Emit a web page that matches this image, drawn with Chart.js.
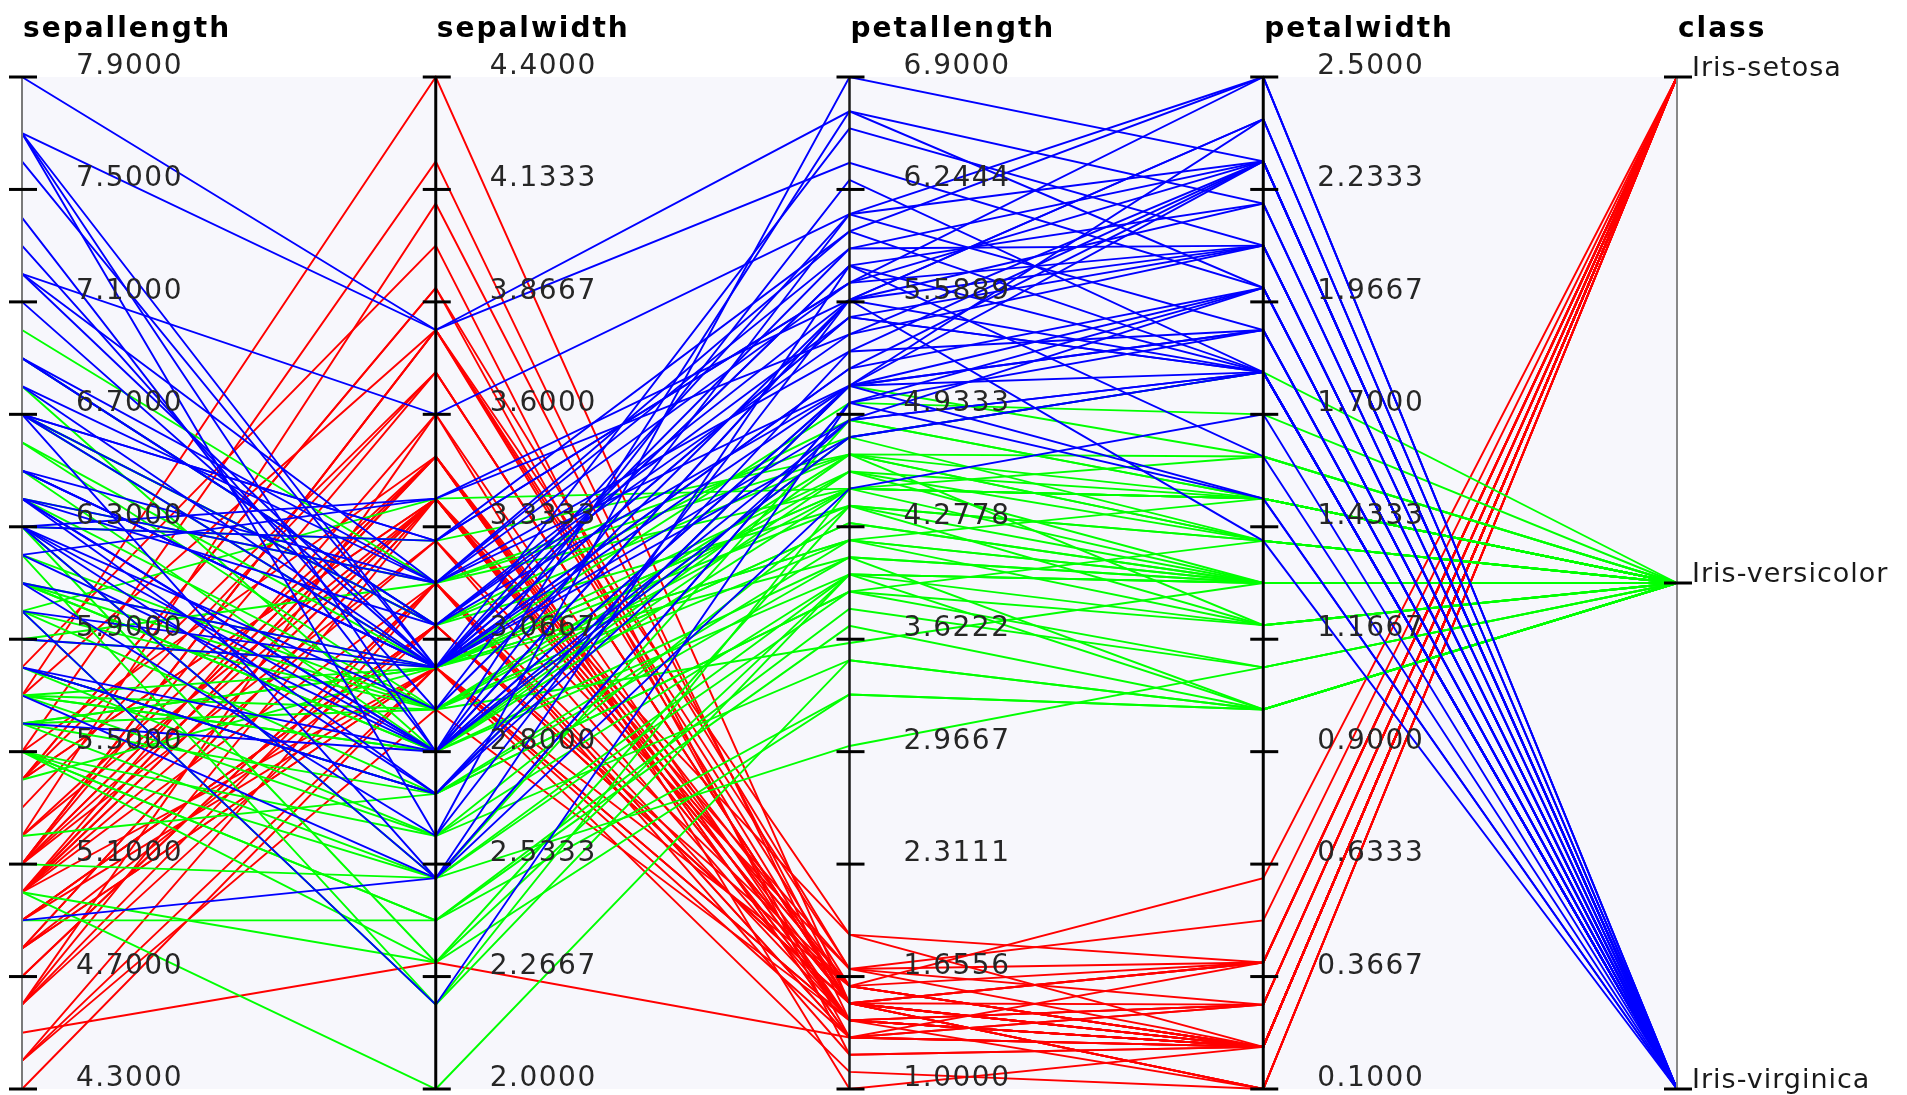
<!DOCTYPE html>
<html>
<head>
<meta charset="utf-8">
<title>Iris parallel coordinates</title>
<script src="https://cdn.jsdelivr.net/npm/chart.js@4.4.1/dist/chart.umd.min.js"></script>
<style>
    html, body { margin: 0; padding: 0; background: #ffffff; }
</style>
</head>
<body>
<canvas id="irisChart" width="1907" height="1095"></canvas>
<script>
// axes, left to right
const axisNames = ["sepallength", "sepalwidth", "petallength", "petalwidth", "class"];
const axisMin = [4.3, 2.0, 1.0, 0.1];
const axisMax = [7.9, 4.4, 6.9, 2.5];

// tick labels, bottom to top
const sepalLengthTicks = ["4.3000", "4.7000", "5.1000", "5.5000", "5.9000", "6.3000", "6.7000", "7.1000", "7.5000", "7.9000"];
const sepalWidthTicks = ["2.0000", "2.2667", "2.5333", "2.8000", "3.0667", "3.3333", "3.6000", "3.8667", "4.1333", "4.4000"];
const petalLengthTicks = ["1.0000", "1.6556", "2.3111", "2.9667", "3.6222", "4.2778", "4.9333", "5.5889", "6.2444", "6.9000"];
const petalWidthTicks = ["0.1000", "0.3667", "0.6333", "0.9000", "1.1667", "1.4333", "1.7000", "1.9667", "2.2333", "2.5000"];
const classTicks = ["Iris-virginica", "Iris-versicolor", "Iris-setosa"];

const classColors = ["#ff0000", "#00ff00", "#0000ff"]; // setosa, versicolor, virginica

// 0 = Iris-setosa, 1 = Iris-versicolor, 2 = Iris-virginica
const species = [
    0,0,0,0,0,0,0,0,0,0, 0,0,0,0,0,0,0,0,0,0, 0,0,0,0,0,0,0,0,0,0, 0,0,0,0,0,0,0,0,0,0, 0,0,0,0,0,0,0,0,0,0,
    1,1,1,1,1,1,1,1,1,1, 1,1,1,1,1,1,1,1,1,1, 1,1,1,1,1,1,1,1,1,1, 1,1,1,1,1,1,1,1,1,1, 1,1,1,1,1,1,1,1,1,1,
    2,2,2,2,2,2,2,2,2,2, 2,2,2,2,2,2,2,2,2,2, 2,2,2,2,2,2,2,2,2,2, 2,2,2,2,2,2,2,2,2,2, 2,2,2,2,2,2,2,2,2,2
];

const sepalLength = [
    5.1,4.9,4.7,4.6,5.0,5.4,4.6,5.0,4.4,4.9, 5.4,4.8,4.8,4.3,5.8,5.7,5.4,5.1,5.7,5.1,
    5.4,5.1,4.6,5.1,4.8,5.0,5.0,5.2,5.2,4.7, 4.8,5.4,5.2,5.5,4.9,5.0,5.5,4.9,4.4,5.1,
    5.0,4.5,4.4,5.0,5.1,4.8,5.1,4.6,5.3,5.0,
    7.0,6.4,6.9,5.5,6.5,5.7,6.3,4.9,6.6,5.2, 5.0,5.9,6.0,6.1,5.6,6.7,5.6,5.8,6.2,5.6,
    5.9,6.1,6.3,6.1,6.4,6.6,6.8,6.7,6.0,5.7, 5.5,5.5,5.8,6.0,5.4,6.0,6.7,6.3,5.6,5.5,
    5.5,6.1,5.8,5.0,5.6,5.7,5.7,6.2,5.1,5.7,
    6.3,5.8,7.1,6.3,6.5,7.6,4.9,7.3,6.7,7.2, 6.5,6.4,6.8,5.7,5.8,6.4,6.5,7.7,7.7,6.0,
    6.9,5.6,7.7,6.3,6.7,7.2,6.2,6.1,6.4,7.2, 7.4,7.9,6.4,6.3,6.1,7.7,6.3,6.4,6.0,6.9,
    6.7,6.9,5.8,6.8,6.7,6.7,6.3,6.5,6.2,5.9
];

const sepalWidth = [
    3.5,3.0,3.2,3.1,3.6,3.9,3.4,3.4,2.9,3.1, 3.7,3.4,3.0,3.0,4.0,4.4,3.9,3.5,3.8,3.8,
    3.4,3.7,3.6,3.3,3.4,3.0,3.4,3.5,3.4,3.2, 3.1,3.4,4.1,4.2,3.1,3.2,3.5,3.1,3.0,3.4,
    3.5,2.3,3.2,3.5,3.8,3.0,3.8,3.2,3.7,3.3,
    3.2,3.2,3.1,2.3,2.8,2.8,3.3,2.4,2.9,2.7, 2.0,3.0,2.2,2.9,2.9,3.1,3.0,2.7,2.2,2.5,
    3.2,2.8,2.5,2.8,2.9,3.0,2.8,3.0,2.9,2.6, 2.4,2.4,2.7,2.7,3.0,3.4,3.1,2.3,3.0,2.5,
    2.6,3.0,2.6,2.3,2.7,3.0,2.9,2.9,2.5,2.8,
    3.3,2.7,3.0,2.9,3.0,3.0,2.5,2.9,2.5,3.6, 3.2,2.7,3.0,2.5,2.8,3.2,3.0,3.8,2.6,2.2,
    3.2,2.8,2.8,2.7,3.3,3.2,2.8,3.0,2.8,3.0, 2.8,3.8,2.8,2.8,2.6,3.0,3.4,3.1,3.0,3.1,
    3.1,3.1,2.7,3.2,3.3,3.0,2.5,3.0,3.4,3.0
];

const petalLength = [
    1.4,1.4,1.3,1.5,1.4,1.7,1.4,1.5,1.4,1.5, 1.5,1.6,1.4,1.1,1.2,1.5,1.3,1.4,1.7,1.5,
    1.7,1.5,1.0,1.7,1.9,1.6,1.6,1.5,1.4,1.6, 1.6,1.5,1.5,1.4,1.5,1.2,1.3,1.5,1.3,1.5,
    1.3,1.3,1.3,1.6,1.9,1.4,1.6,1.4,1.5,1.4,
    4.7,4.5,4.9,4.0,4.6,4.5,4.7,3.3,4.6,3.9, 3.5,4.2,4.0,4.7,3.6,4.4,4.5,4.1,4.5,3.9,
    4.8,4.0,4.9,4.7,4.3,4.4,4.8,5.0,4.5,3.5, 3.8,3.7,3.9,5.1,4.5,4.5,4.7,4.4,4.1,4.0,
    4.4,4.6,4.0,3.3,4.2,4.2,4.2,4.3,3.0,4.1,
    6.0,5.1,5.9,5.6,5.8,6.6,4.5,6.3,5.8,6.1, 5.1,5.3,5.5,5.0,5.1,5.3,5.5,6.7,6.9,5.0,
    5.7,4.9,6.7,4.9,5.7,6.0,4.8,4.9,5.6,5.8, 6.1,6.4,5.6,5.1,5.6,6.1,5.6,5.5,4.8,5.4,
    5.6,5.1,5.1,5.9,5.7,5.2,5.0,5.2,5.4,5.1
];

const petalWidth = [
    0.2,0.2,0.2,0.2,0.2,0.4,0.3,0.2,0.2,0.1, 0.2,0.2,0.1,0.1,0.2,0.4,0.4,0.3,0.3,0.3,
    0.2,0.4,0.2,0.5,0.2,0.2,0.4,0.2,0.2,0.2, 0.2,0.4,0.1,0.2,0.1,0.2,0.2,0.1,0.2,0.2,
    0.3,0.3,0.2,0.6,0.4,0.3,0.2,0.2,0.2,0.2,
    1.4,1.5,1.5,1.3,1.5,1.3,1.6,1.0,1.3,1.4, 1.0,1.5,1.0,1.4,1.3,1.4,1.5,1.0,1.5,1.1,
    1.8,1.3,1.5,1.2,1.3,1.4,1.4,1.7,1.5,1.0, 1.1,1.0,1.2,1.6,1.5,1.6,1.5,1.3,1.3,1.3,
    1.2,1.4,1.2,1.0,1.3,1.2,1.3,1.3,1.1,1.3,
    2.5,1.9,2.1,1.8,2.2,2.1,1.7,1.8,1.8,2.5, 2.0,1.9,2.1,2.0,2.4,2.3,1.8,2.2,2.3,1.5,
    2.3,2.0,2.0,1.8,2.1,1.8,1.8,1.8,2.1,1.6, 1.9,2.0,2.2,1.5,1.4,2.3,2.4,1.8,1.8,2.1,
    2.4,2.3,1.9,2.3,2.5,2.3,1.9,2.0,2.3,1.8
];

const numericColumns = [sepalLength, sepalWidth, petalLength, petalWidth];
const numericTicks = [sepalLengthTicks, sepalWidthTicks, petalLengthTicks, petalWidthTicks];

function scaled(value, axis) {
    return (value - axisMin[axis]) / (axisMax[axis] - axisMin[axis]);
}

function classLevel(code) {
    // setosa on top, virginica at the bottom
    return 1 - code / (classTicks.length - 1);
}

// last rows first, so that Chart.js paints virginica on top
let datasets = [];
for (let i = species.length - 1; i >= 0; i--) {
    let points = numericColumns.map((col, a) => ({ x: a, y: scaled(col[i], a) }));
    points.push({ x: 4, y: classLevel(species[i]) });
    datasets.push({
        data: points,
        borderColor: classColors[species[i]],
        borderWidth: 1.9,
        pointRadius: 0,
        tension: 0,
        fill: false,
        clip: false
    });
}

const axisLineColors = ["#7a7a7a", "#000000", "#1a1a1a", "#000000", "#888888"];
const axisLineWidths = [2, 3, 2.5, 3, 2];

const parallelAxes = {
    id: "parallelAxes",
    beforeDatasetsDraw(chart) {
        const { ctx, chartArea } = chart;
        ctx.save();
        ctx.fillStyle = "#f7f7fc";
        ctx.fillRect(chartArea.left, chartArea.top, chartArea.width, chartArea.height);
        ctx.restore();
    },
    afterDatasetsDraw(chart) {
        const { ctx } = chart;
        const xs = chart.scales.x;
        const ys = chart.scales.y;
        const top = ys.getPixelForValue(1);
        const bottom = ys.getPixelForValue(0);

        ctx.save();
        axisNames.forEach((name, a) => {
            const x = xs.getPixelForValue(a);

            ctx.strokeStyle = axisLineColors[a];
            ctx.lineWidth = axisLineWidths[a];
            ctx.beginPath();
            ctx.moveTo(x, top);
            ctx.lineTo(x, bottom);
            ctx.stroke();

            const labels = a < 4 ? numericTicks[a] : classTicks;
            labels.forEach((text, k) => {
                const y = ys.getPixelForValue(k / (labels.length - 1));
                ctx.strokeStyle = "#000000";
                ctx.lineWidth = 3;
                ctx.beginPath();
                ctx.moveTo(x - 13, y);
                ctx.lineTo(x + 15, y);
                ctx.stroke();

                ctx.textAlign = "left";
                ctx.textBaseline = "alphabetic";
                if (a < 4) {
                    ctx.font = "28px 'DejaVu Sans'";
                    ctx.letterSpacing = "1.5px";
                    ctx.fillStyle = "#262626";
                    ctx.fillText(text, x + 54, y - 3);
                } else {
                    ctx.font = "27px 'DejaVu Sans'";
                    ctx.letterSpacing = "1px";
                    ctx.fillStyle = "#1a1a1a";
                    ctx.fillText(text, x + 15, y - 1);
                }
            });

            ctx.font = "bold 28px 'DejaVu Sans'";
            ctx.letterSpacing = "2px";
            ctx.fillStyle = "#000000";
            ctx.fillText(name, x + 1, 37);
        });
        ctx.letterSpacing = "0px";
        ctx.restore();
    }
};

new Chart(document.getElementById("irisChart"), {
    type: "line",
    data: { datasets: datasets },
    options: {
        responsive: false,
        animation: false,
        events: [],
        layout: { padding: { left: 22, right: 230, top: 77, bottom: 6 } },
        scales: {
            x: { type: "linear", min: 0, max: 4, display: false },
            y: { type: "linear", min: 0, max: 1, display: false }
        },
        plugins: {
            legend: { display: false },
            tooltip: { enabled: false }
        }
    },
    plugins: [parallelAxes]
});
</script>
</body>
</html>
